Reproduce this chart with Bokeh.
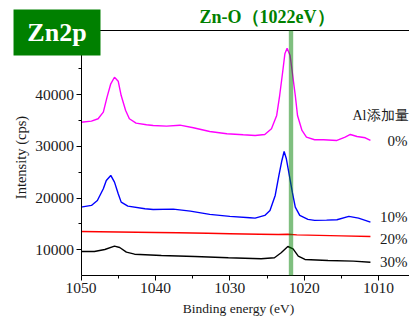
from bokeh.plotting import figure
from bokeh.models import Range1d, LinearAxis, BoxAnnotation, Label, FixedTicker
from bokeh.embed import file_html
from bokeh.resources import INLINE

# ---- data ----
x0 = [1050.0, 1048.6, 1047.7, 1047.0, 1046.5, 1046.0, 1045.5, 1045.0, 1044.6, 1044.0,
      1043.5, 1042.6, 1041.2, 1040.3, 1038.5, 1036.7, 1034.9, 1032.7, 1030.4, 1028.2,
      1026.6, 1025.3, 1024.4, 1023.7, 1023.3, 1022.9, 1022.6, 1022.3, 1021.9, 1021.6,
      1021.2, 1020.9, 1020.3, 1019.7, 1018.6, 1017.4, 1015.6, 1014.5, 1013.8, 1012.9,
      1011.8, 1011.1]
y0 = [34700, 34900, 35360, 36640, 39540, 42130, 43400, 42630, 39860, 36960,
      35360, 34510, 34200, 34060, 33930, 34120, 33620, 32900, 32460, 32260,
      32130, 32320, 33420, 36000, 39860, 44370, 47930, 49010, 47600, 44370,
      39860, 36000, 33100, 31800, 31300, 31300, 31160, 31800, 32320, 31930,
      31680, 31160]

x10 = [1050.0, 1048.6, 1047.8, 1047.0, 1046.6, 1046.0, 1045.5, 1045.0, 1044.6, 1043.7,
       1041.4, 1040.3, 1037.6, 1035.3, 1032.7, 1030.0, 1027.3, 1026.6, 1025.3, 1024.6,
       1023.9, 1023.4, 1023.0, 1022.7, 1022.4, 1022.0, 1021.6, 1021.2, 1020.6, 1019.5,
       1018.6, 1017.0, 1015.6, 1014.0, 1012.7, 1011.1]
y10 = [18260, 18590, 19550, 21820, 23420, 24390, 23100, 20850, 19230, 18450,
       17940, 17810, 17870, 17490, 16850, 16460, 16210, 16130, 16650, 17620,
       20520, 24390, 27290, 29030, 27620, 24390, 21160, 18260, 16650, 15880,
       15690, 15750, 15820, 16460, 16130, 15360]

x20 = [1050.0, 1045.0, 1040.0, 1037.0, 1033.0, 1030.0, 1026.0, 1023.5, 1022.2, 1021.0,
       1018.0, 1015.0, 1011.1]
y20 = [13540, 13450, 13350, 13290, 13200, 13120, 13020, 12960, 13000, 12880,
       12800, 12700, 12570]

x30 = [1050.0, 1048.2, 1046.8, 1045.5, 1044.8, 1043.9, 1042.8, 1039.2, 1034.7, 1030.2,
       1025.8, 1024.0, 1023.1, 1022.2, 1021.5, 1020.8, 1019.9, 1016.8, 1013.4, 1011.1]
y30 = [9670, 9670, 10060, 10700, 10440, 9540, 9150, 8900, 8700, 8450,
       8260, 8450, 9420, 10640, 10190, 8770, 8130, 7930, 7800, 7600]

series_labels = ["0%", "10%", "20%", "30%"]
series_colors = ["#ff00ff", "#0000ff", "#ff0000", "#000000"]
y_ticks = [10000, 20000, 30000, 40000]
y_minor = [15000, 25000, 35000, 45000]
x_ticks = [1050, 1040, 1030, 1020, 1010]
x_minor = [1045, 1035, 1025, 1015]

SERIF = "Liberation Serif"
GREEN = "#008000"
INK = "#1a1a1a"

# axes extents (data units)
X_LO, X_HI = 1050, 1005.85          # x axis: 1050 -> right edge
Y_LO, Y_TOP = 5026, 52446           # plot box bottom / top line
Y_AXIS_END = 50704                  # left axis line end (hidden behind Zn2p box)

p = figure(width=409, height=322, output_backend="svg", toolbar_location=None,
           x_range=Range1d(1060.82, 1005.85), y_range=Range1d(-4071, 58252),
           x_axis_location=None, y_axis_location=None,
           min_border_left=0, min_border_right=0, min_border_top=0,
           min_border_bottom=0)
p.outline_line_color = None
p.xgrid.visible = False
p.ygrid.visible = False
p.background_fill_color = "white"
p.border_fill_color = "white"


def style(ax):
    ax.axis_line_color = "black"
    ax.axis_line_width = 1
    ax.major_tick_in = 0
    ax.major_tick_out = 5
    ax.minor_tick_in = 0
    ax.minor_tick_out = 3
    ax.major_tick_line_color = "black"
    ax.minor_tick_line_color = "black"
    ax.major_label_text_font = SERIF
    ax.major_label_text_font_size = "15.5px"
    ax.major_label_text_color = INK


xaxis = LinearAxis(ticker=FixedTicker(ticks=x_ticks, minor_ticks=x_minor),
                   bounds=(X_LO, X_HI), fixed_location=Y_LO,
                   major_label_standoff=3)
style(xaxis)
p.add_layout(xaxis, "below")

yaxis = LinearAxis(ticker=FixedTicker(ticks=y_ticks, minor_ticks=y_minor),
                   bounds=(Y_LO, Y_AXIS_END), fixed_location=X_LO,
                   major_label_standoff=2)
style(yaxis)
p.add_layout(yaxis, "left")

top_axis = LinearAxis(ticker=FixedTicker(ticks=[]), bounds=(X_LO, X_HI),
                      fixed_location=Y_TOP, major_tick_line_color=None,
                      minor_tick_line_color=None, axis_line_color="black",
                      axis_line_width=1, major_label_text_color=None)
p.add_layout(top_axis, "above")

# axis titles
p.add_layout(Label(x=1028.83, y=-1361, text="Binding energy (eV)", text_align="center",
                   text_baseline="middle", text_font=SERIF, text_font_size="13.5px",
                   text_color=INK))
p.add_layout(Label(x=1058.0, y=27865, text="Intensity (cps)", text_align="center",
                   text_baseline="middle", angle=90, angle_units="deg",
                   text_font=SERIF, text_font_size="14.5px", text_color=INK))

for xs, ys, c in zip([x0, x10, x20, x30], [y0, y10, y20, y30], series_colors):
    p.line(xs, ys, line_color=c, line_width=1.4)

band = BoxAnnotation(left=1022.07, right=1021.48, top=Y_TOP, bottom=Y_LO,
                     fill_color=GREEN, fill_alpha=0.5, line_color=None)
p.add_layout(band)

# series labels
label_y = [31155, 16310, 12187, 7600]
for t, yy in zip(series_labels, label_y):
    p.add_layout(Label(x=1006.12, y=yy, text=t, text_align="right", text_baseline="middle",
                       text_font=SERIF, text_font_size="15px", text_color=INK))
p.add_layout(Label(x=1013.51, y=35993, text="Al添加量", text_align="left",
                   text_baseline="middle", text_font=SERIF, text_font_size="14px",
                   text_color=INK))

# title
p.add_layout(Label(x=1025.0, y=54962, text="Zn-O（1022eV）", text_align="center",
                   text_baseline="middle", text_font=SERIF, text_font_size="18px",
                   text_font_style="bold", text_color=GREEN))

# Zn2p box
p.add_layout(BoxAnnotation(left=1059.07, right=1047.38, top=56510, bottom=47607,
                           fill_color=GREEN, fill_alpha=1.0, line_color=None))
p.add_layout(Label(x=1053.23, y=52058, text="Zn2p", text_align="center",
                   text_baseline="middle", text_font=SERIF, text_font_size="26px",
                   text_font_style="bold", text_color="white"))

open("out.html", "w").write(file_html(p, INLINE))
